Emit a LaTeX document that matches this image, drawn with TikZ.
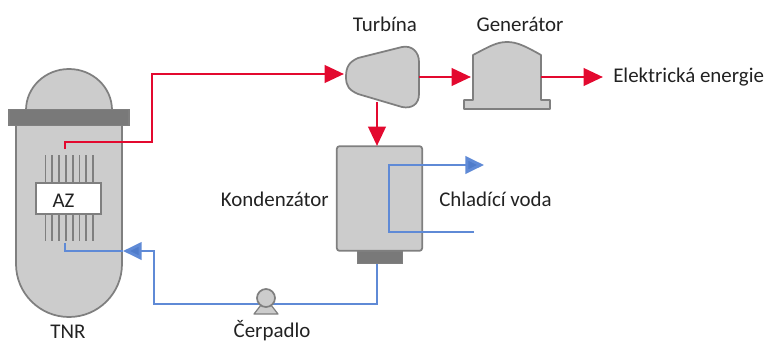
\documentclass[tikz,border=0pt]{standalone}
\usepackage{fontspec}
\setmainfont{Carlito}
\usetikzlibrary{arrows.meta}
\definecolor{cred}{HTML}{E3092F}
\definecolor{cblue}{HTML}{5F8AD6}
\definecolor{cbluehead}{HTML}{4F7CCB}
\definecolor{cfill}{HTML}{CCCCCC}
\definecolor{cedge}{HTML}{7F7F7F}
\definecolor{ctext}{HTML}{222222}
\tikzset{
  x=0.75pt,y=-0.75pt,
  part/.style={fill=cfill,draw=cedge,line width=1.3pt,line join=round},
  darkpart/.style={fill=cedge!95!black,draw=cedge,line width=0.8pt},
  rod/.style={draw=cedge,line width=1.4pt},
  redpipe/.style={draw=cred,line width=2.2pt},
  bluepipe/.style={draw=cblue,line width=2.2pt},
  redarrow/.style={redpipe,-{Triangle[length=14.5pt,width=13pt,fill=cred]}},
  bluearrow/.style={bluepipe,-{Triangle[length=14pt,width=13pt,fill=cbluehead]}},
  lbl/.style={text=ctext,font=\fontsize{15.7pt}{18pt}\selectfont,inner sep=0pt},
}
\begin{document}
\begin{tikzpicture}
\useasboundingbox (0,0) rectangle (767,343);
% reactor vessel
\draw[part] (26,110) arc[start angle=180,end angle=0,x radius=43,y radius=-41] -- cycle;
\draw[part] (16,120) -- (16,264) arc[start angle=180,end angle=360,x radius=53,y radius=-53] -- (122,120) -- cycle;
\node[darkpart,minimum width=90pt,minimum height=11.5pt,inner sep=0pt] (flange) at (69,117.5) {};
% rods
\foreach \x in {45.5,52.3,59.1,65.9,72.7,79.5,86.3,93.1}{
  \draw[rod] (\x,155) -- (\x,183);
  \draw[rod] (\x,214) -- (\x,241);
}
\node[fill=white,draw=cedge,line width=1.2pt,minimum width=48.5pt,minimum height=23pt,inner sep=0pt] (az) at (68.5,198.5) {};
\node[lbl] (aztext) at (63.5,201) {AZ};
% turbine
\draw[part] (346,77) .. controls (346,67) and (349,62) .. (358,58)
  -- (402,47) .. controls (412,45) and (419,52) .. (419,62)
  -- (419,94) .. controls (419,104) and (412,109) .. (402,107)
  -- (358,94) .. controls (349,90) and (346,86) .. (346,77) -- cycle;
\coordinate (turbin) at (344,74);
\coordinate (turbout) at (419,77);
\coordinate (turbdown) at (377,102);
% generator
\draw[part] (473,100) -- (473,55) .. controls (490,46) and (497,42) .. (507,42)
  .. controls (517,42) and (525,46) .. (541,55) -- (541,100) -- (550,100) -- (550,109)
  -- (464,109) -- (464,100) -- cycle;
\coordinate (genin) at (471,77);
\coordinate (genout) at (541,77);
\coordinate (power) at (603,77);
% condenser
\node[part,rounded corners=2pt,minimum width=64pt,minimum height=78.5pt,inner sep=0pt] (cond) at (379.5,198.5) {};
\node[darkpart,minimum width=34pt,minimum height=9.5pt,inner sep=0pt] (hotwell) at (380,257.5) {};
% pipes
\coordinate (redstart) at (65,149);
\coordinate (bluestart) at (65,243);
\coordinate (vesselin) at (123,251);
\coordinate (condtop) at (377,146);
\coordinate (coolin) at (474,232);
\coordinate (coolout) at (484,165);
\draw[redarrow] (redstart) -- (65,142) -- (152,142) -- (152,74) -- (turbin);
\draw[redarrow] (turbout) -- (genin);
\draw[redarrow] (genout) -- (power);
\draw[redarrow] (turbdown) -- (condtop);
\draw[bluepipe] (bluestart) -- (65,251) -- (vesselin);
\draw[bluearrow] (377,264) -- (377,304) -- (154,304) -- (154,251) -- (vesselin);
\draw[bluearrow] (coolin) -- (389,232) -- (389,165) -- (coolout);
% pump, over the pipe
\draw[part,line width=0.9pt] (261,305) -- (271,305) -- (278,314) -- (254,314) -- cycle;
\node[part,circle,minimum size=13.5pt,inner sep=0pt] (pump) at (266,298) {};
% labels
\node[lbl] (l1) at (385,24) {Turbína};
\node[lbl] (l2) at (520,24) {Generátor};
\node[lbl,anchor=west] (l3) at (613,77) {Elektrická energie};
\node[lbl,anchor=east] (l4) at (329,199) {Kondenzátor};
\node[lbl,anchor=west] (l5) at (439,199) {Chladící voda};
\node[lbl] (l6) at (68,332) {TNR};
\node[lbl] (l7) at (272,331) {Čerpadlo};
\end{tikzpicture}
\end{document}
